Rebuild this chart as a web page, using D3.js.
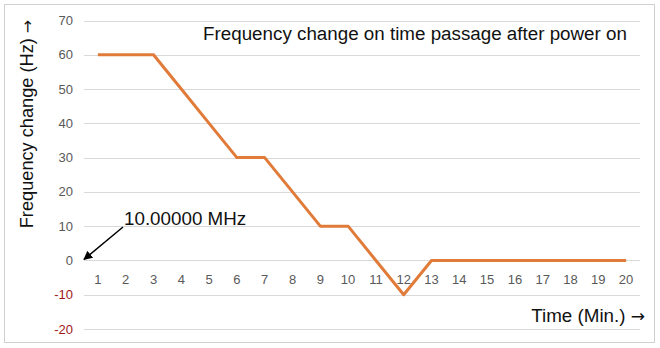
<!DOCTYPE html>
<html><head><meta charset="utf-8">
<script src="https://cdn.jsdelivr.net/npm/d3@7"></script>
<style>body{margin:0;background:#fff;} svg{display:block;font-family:"Liberation Sans",Arial,sans-serif;}</style>
</head><body>
<svg id="c" width="660" height="348"></svg>
<script>
const minutes = [1,2,3,4,5,6,7,8,9,10,11,12,13,14,15,16,17,18,19,20];
const freqChange = [60,60,60,50,40,30,30,20,10,10,0,-10,0,0,0,0,0,0,0,0];
const yTicks = [-20,-10,0,10,20,30,40,50,60,70];
const titleText = "Frequency change on time passage after power on";
const yLabel = "Frequency change (Hz) ";
const xLabel = "Time (Min.) ";
const arrowGlyph = "→";
const annotation = "10.00000 MHz";

const svg = d3.select("#c");
svg.append("rect").attr("x",4.5).attr("y",4.5).attr("width",650).attr("height",338)
  .attr("fill","#fff").attr("stroke","#d0d0d0");

const x = d3.scalePoint().domain(minutes).range([84,640]).padding(0.5);
const y = d3.scaleLinear().domain([-20,70]).range([329,20.5]);

// gridlines
svg.append("g").selectAll("line").data(yTicks).join("line")
  .attr("x1",84).attr("x2",640).attr("y1",d=>Math.round(y(d))+0.5).attr("y2",d=>Math.round(y(d))+0.5)
  .attr("stroke","#d9d9d9").attr("stroke-width",1);

// y tick labels
svg.append("g").selectAll("text").data(yTicks).join("text")
  .attr("x",73).attr("y",d=>y(d)+4.5).attr("text-anchor","end")
  .attr("font-size",13).attr("fill",d=>d<0?"#a01818":"#595959").text(d=>d);

// x tick labels
svg.append("g").selectAll("text").data(minutes).join("text")
  .attr("x",d=>x(d)).attr("y",284).attr("text-anchor","middle")
  .attr("font-size",13).attr("fill","#595959").text(d=>d);

// line
const line = d3.line().x((d,i)=>x(minutes[i])).y(d=>y(d));
svg.append("path").datum(freqChange).attr("d",line).attr("fill","none")
  .attr("stroke","#e07b39").attr("stroke-width",3).attr("stroke-linejoin","round");

// title
svg.append("text").attr("x",415).attr("y",40).attr("text-anchor","middle")
  .attr("font-size",18.8).attr("fill","#111").text(titleText);

// y label
const yl = svg.append("text").attr("transform","translate(33,124) rotate(-90)").attr("text-anchor","middle")
  .attr("font-size",18.2).attr("fill","#111");
yl.append("tspan").text(yLabel);
yl.append("tspan").attr("font-family","DejaVu Sans").attr("font-size",16).text(arrowGlyph);

// x label
const xl = svg.append("text").attr("x",645).attr("y",322).attr("text-anchor","end")
  .attr("font-size",18.8).attr("fill","#111");
xl.append("tspan").text(xLabel);
xl.append("tspan").attr("font-family","DejaVu Sans").attr("font-size",17).text(arrowGlyph);

// annotation
svg.append("defs").append("marker").attr("id","ah").attr("viewBox","0 0 10 10")
  .attr("refX",9).attr("refY",5).attr("markerWidth",6).attr("markerHeight",6).attr("orient","auto")
  .append("path").attr("d","M0,0 L10,5 L0,10 z").attr("fill","#000");
svg.append("line").attr("x1",123).attr("y1",227).attr("x2",x.range()[0]).attr("y2",y(0)-1)
  .attr("stroke","#000").attr("stroke-width",1.5).attr("marker-end","url(#ah)");
svg.append("text").attr("x",124).attr("y",225).attr("font-size",18.8).attr("fill","#111").text(annotation);
</script>
</body></html>
